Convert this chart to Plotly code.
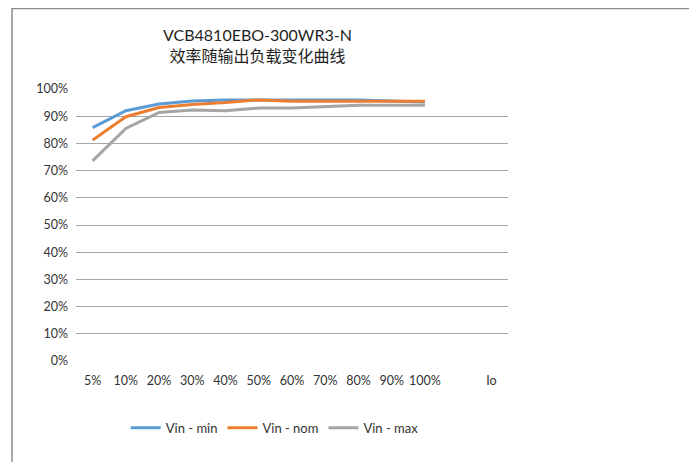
import plotly.graph_objects as go

categories = ["5%", "10%", "20%", "30%", "40%", "50%", "60%", "70%", "80%", "90%", "100%", " ", "Io"]
load_points = categories[:11]
vin_min = [0.858, 0.920, 0.945, 0.956, 0.960, 0.961, 0.960, 0.960, 0.960, 0.956, 0.952]
vin_nom = [0.812, 0.898, 0.932, 0.943, 0.950, 0.960, 0.955, 0.955, 0.955, 0.955, 0.955]
vin_max = [0.736, 0.855, 0.914, 0.923, 0.920, 0.930, 0.930, 0.935, 0.940, 0.940, 0.940]
y_ticks = [i / 10 for i in range(11)]
y_labels = [f"{i*10}%" for i in range(11)]

FONT = "Lato, 'Noto Sans CJK SC', sans-serif"
PW, PH = 432, 272
L, T = 68, 81
TXT = "#333333"

fig = go.Figure()
# dummy trace to register the full category list
fig.add_trace(go.Scatter(x=categories, y=[None]*len(categories), mode="lines",
                         showlegend=False, hoverinfo="skip"))
for name, vals, col in [("Vin - min", vin_min, "#5B9BD5"),
                        ("Vin - nom", vin_nom, "#ED7D31"),
                        ("Vin - max", vin_max, "#A5A5A5")]:
    fig.add_trace(go.Scatter(x=load_points, y=vals, mode="lines", name=name,
                             line=dict(color=col, width=3)))

fig.update_layout(
    width=697, height=462,
    margin=dict(l=L, r=697 - L - PW, t=T, b=462 - T - PH),
    paper_bgcolor="white", plot_bgcolor="white",
    font=dict(family=FONT, size=12, color=TXT),
    showlegend=True,
    legend=dict(orientation="h", x=0.46, xanchor="center", y=-0.246, yanchor="middle",
                font=dict(size=13, color=TXT)),
    xaxis=dict(type="category", categoryorder="array", categoryarray=categories,
               range=[-0.5, 12.5], showgrid=False, showline=False, zeroline=False,
               ticks="", ticklabelstandoff=10, tickfont=dict(size=12.5, color=TXT)),
    yaxis=dict(range=[0, 1.0], tickvals=y_ticks, ticktext=y_labels,
               showgrid=True, gridcolor="#A6A6A6", gridwidth=1, zeroline=False,
               showline=False, ticks="", ticklabelstandoff=7, tickfont=dict(size=12.5, color=TXT)),
)

fig.add_annotation(text="VCB4810EBO-300WR3-N<br>效率随输出负载变化曲线",
                   xref="paper", yref="paper", x=0.42, y=1.16, xanchor="center", yanchor="middle",
                   showarrow=False, font=dict(size=16, color="#1f1f1f", family=FONT))

fig.add_shape(type="rect", xref="paper", yref="paper",
              x0=(4 - L) / PW, x1=(686 - L) / PW, y0=(T + PH - 475) / PH, y1=(T + PH - 0.5) / PH,
              line=dict(color="#8C8C8C", width=1.5), fillcolor="rgba(0,0,0,0)")

fig.write_html("out.html")
